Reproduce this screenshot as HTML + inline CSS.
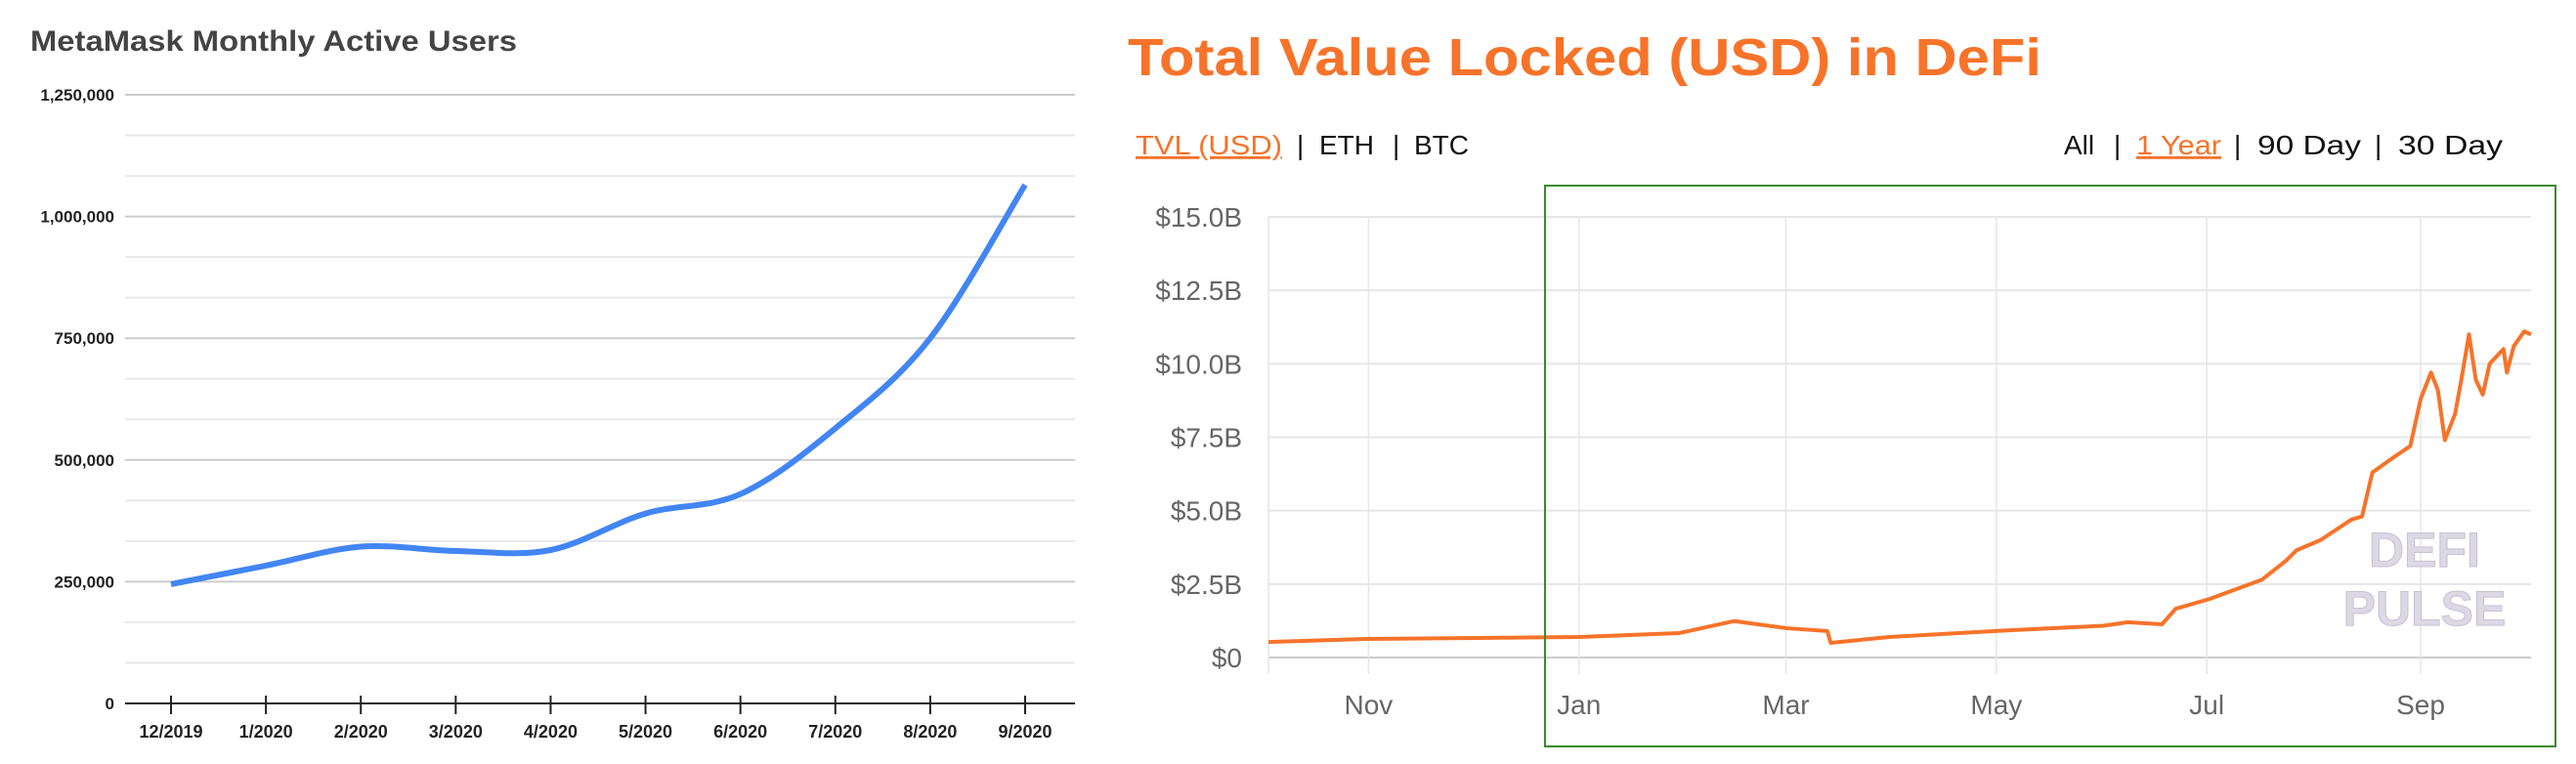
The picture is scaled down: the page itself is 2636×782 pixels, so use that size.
<!DOCTYPE html>
<html><head><meta charset="utf-8"><style>
body{margin:0;background:#fff;width:2636px;height:782px;overflow:hidden;font-family:"Liberation Sans",sans-serif}
svg{position:absolute;left:0;top:0}
</style></head><body>
<svg id="s" width="2636" height="782">
<text x="31" y="52" font-size="30" font-weight="bold" fill="#444" textLength="498" lengthAdjust="spacingAndGlyphs">MetaMask Monthly Active Users</text>
<g id="L"></g>
<text x="1154" y="77" font-size="54" font-weight="bold" fill="#f7732a" textLength="935" lengthAdjust="spacingAndGlyphs">Total Value Locked (USD) in DeFi</text>
<g font-size="28" fill="#111">
<text x="1162" y="158" fill="#f7732a" text-decoration="underline" textLength="150" lengthAdjust="spacingAndGlyphs">TVL (USD)</text>
<text x="1327" y="158">|</text>
<text x="1350" y="158">ETH</text>
<text x="1425" y="158">|</text>
<text x="1447" y="158">BTC</text>
</g>
<g font-size="28" fill="#111">
<text x="2112" y="158">All</text>
<text x="2163" y="158">|</text>
<text x="2186" y="158" fill="#f7732a" text-decoration="underline" textLength="87" lengthAdjust="spacingAndGlyphs">1 Year</text>
<text x="2286" y="158">|</text>
<text x="2310" y="158" textLength="106" lengthAdjust="spacingAndGlyphs">90 Day</text>
<text x="2430" y="158">|</text>
<text x="2454" y="158" textLength="107" lengthAdjust="spacingAndGlyphs">30 Day</text>
</g>
<g id="R"></g>
<text x="2481" y="580" text-anchor="middle" font-size="50" font-weight="bold" fill="#dcd8e4" stroke="#c8c2d4" stroke-width="1">DEFI</text>
<text x="2481" y="640" text-anchor="middle" font-size="50" font-weight="bold" fill="#dcd8e4" stroke="#c8c2d4" stroke-width="1">PULSE</text>
<rect x="1581" y="190" width="1034" height="574" fill="none" stroke="#3d8a2e" stroke-width="2"/>
</svg>
<script>
const mmCategories=["12/2019","1/2020","2/2020","3/2020","4/2020","5/2020","6/2020","7/2020","8/2020","9/2020"];
const mmUsers=[245000,283000,322000,313000,315000,390000,430000,565000,750000,1065000];
const mmTicks=[0,250000,500000,750000,1000000,1250000];
const tvlDays=[2,30,92,121,137,152,164,165,182,214,244,251,261,265,275,290,297,300,307,316,319,322,328,333,336,339,341,343,346,348,350,352,354,356,360,361,363,366,368];
const tvlValues=[0.53,0.63,0.70,0.83,1.24,1.0,0.9,0.5,0.7,0.91,1.08,1.2,1.13,1.66,2.0,2.65,3.3,3.65,4.0,4.7,4.8,6.3,6.8,7.2,8.8,9.7,9.1,7.4,8.3,9.6,11.0,9.45,8.95,10.0,10.5,9.7,10.6,11.1,11.0];
const tvlTicks=[0,2.5,5,7.5,10,12.5,15];
const tvlTickLabels=["$0","$2.5B","$5.0B","$7.5B","$10.0B","$12.5B","$15.0B"];
const tvlMonths=["Nov","Jan","Mar","May","Jul","Sep"];
const tvlMonthDays=[31,92,152,213,274,336];
const NS="http://www.w3.org/2000/svg";
function mk(p,t,a){const e=document.createElementNS(NS,t);for(const k in a)e.setAttribute(k,a[k]);p.appendChild(e);return e;}
// left
const L=document.getElementById('L');
const lx=i=>175+i*(1049-175)/9, ly=v=>720-v/250000*124.6;
for(let k=1;k<=15;k++){const v=k*250000/3;const g=mk(L,'line',{x1:128,x2:1100,y1:ly(v),y2:ly(v),stroke:k%3===0?'#ccc':'#e8e8e8','stroke-width':2});
}
mmTicks.forEach(v=>{const t=mk(L,'text',{x:117,y:ly(v)+6,'text-anchor':'end','font-size':17,'font-weight':'bold',fill:'#222'});t.textContent=v.toLocaleString('en-US');
});
const ax=mk(L,'line',{x1:128,x2:1100,y1:720,y2:720,stroke:'#222','stroke-width':2});

mmCategories.forEach((c,i)=>{const tk=mk(L,'line',{x1:lx(i),x2:lx(i),y1:712,y2:731,stroke:'#222','stroke-width':2});

const t=mk(L,'text',{x:lx(i),y:755,'text-anchor':'middle','font-size':18,'font-weight':'bold',fill:'#222'});t.textContent=c;
});
const P=mmUsers.map((v,i)=>[lx(i),ly(v)]);
let d='M'+P[0][0]+','+P[0][1];
for(let i=0;i<P.length-1;i++){const p0=P[Math.max(0,i-1)],p1=P[i],p2=P[i+1],p3=P[Math.min(P.length-1,i+2)];
d+=` C${p1[0]+(p2[0]-p0[0])/6},${p1[1]+(p2[1]-p0[1])/6} ${p2[0]-(p3[0]-p1[0])/6},${p2[1]-(p3[1]-p1[1])/6} ${p2[0]},${p2[1]}`;}
const ml=mk(L,'path',{d:d,fill:'none',stroke:'#4285f4','stroke-width':6});

// right
const R=document.getElementById('R');
const rx=dd=>1298+(dd-2)*(2590-1298)/(368-2), ry=v=>673-v*451/15;
tvlTicks.forEach((v,i)=>{const g=mk(R,'line',{x1:1298,x2:2590,y1:ry(v),y2:ry(v),stroke:i===0?'#ccc':'#e6e6e6','stroke-width':2});

const t=mk(R,'text',{x:1271,y:ry(v)+10,'text-anchor':'end','font-size':28,fill:'#666'});t.textContent=tvlTickLabels[i];
});
const vl=mk(R,'line',{x1:1298,x2:1298,y1:222,y2:690,stroke:'#e6e6e6','stroke-width':1.5});

tvlMonths.forEach((m,i)=>{const x=rx(tvlMonthDays[i]);const g=mk(R,'line',{x1:x,x2:x,y1:222,y2:690,stroke:'#e6e6e6','stroke-width':1.5});

const t=mk(R,'text',{x:x,y:731,'text-anchor':'middle','font-size':28,fill:'#666'});t.textContent=m;
});
const tp=mk(R,'polyline',{points:tvlDays.map((dd,i)=>rx(dd)+','+ry(tvlValues[i])).join(' '),fill:'none',stroke:'#f7732a','stroke-width':4,'stroke-linejoin':'round'});

</script>
</body></html>
